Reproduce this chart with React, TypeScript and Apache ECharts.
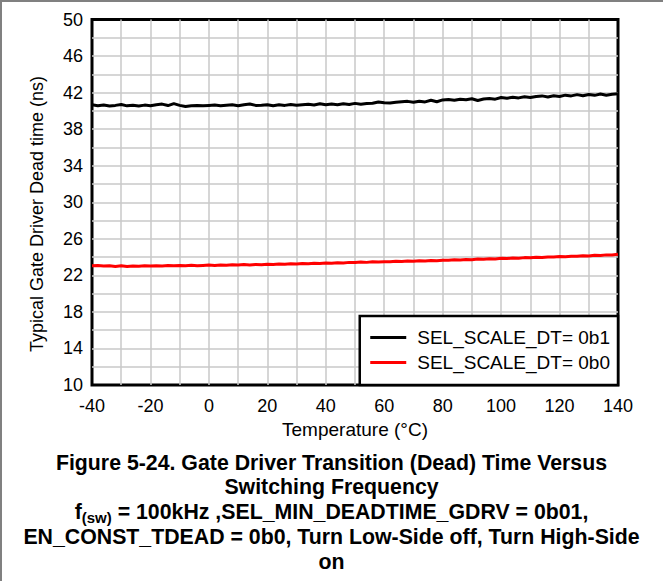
import React, { useEffect, useRef } from "react";
import * as echarts from "echarts";

const FONT = '"Liberation Sans", Arial, Helvetica, sans-serif';

// Junction temperature sweep (°C)
const temperatures = [
  -40, -38, -36, -34, -32, -30, -28, -26, -24, -22, -20, -18, -16, -14, -12, -10,
  -8, -6, -4, -2, 0, 2, 4, 6, 8, 10, 12, 14, 16, 18, 20, 22, 24, 26, 28, 30, 32,
  34, 36, 38, 40, 42, 44, 46, 48, 50, 52, 54, 56, 58, 60, 62, 64, 66, 68, 70, 72,
  74, 76, 78, 80, 82, 84, 86, 88, 90, 92, 94, 96, 98, 100, 102, 104, 106, 108,
  110, 112, 114, 116, 118, 120, 122, 124, 126, 128, 130, 132, 134, 136, 138, 140,
];

// Dead time with SEL_SCALE_DT = 0b1 (ns)
const deadTimeScale1 = [
  40.66, 40.56, 40.64, 40.53, 40.6, 40.7, 40.55, 40.62, 40.54, 40.63, 40.57,
  40.68, 40.74, 40.58, 40.8, 40.6, 40.48, 40.57, 40.6, 40.56, 40.6, 40.64,
  40.56, 40.62, 40.66, 40.56, 40.68, 40.76, 40.6, 40.62, 40.68, 40.56, 40.66,
  40.6, 40.7, 40.62, 40.68, 40.72, 40.64, 40.78, 40.66, 40.74, 40.68, 40.78,
  40.7, 40.82, 40.72, 40.8, 40.84, 40.98, 40.88, 40.86, 40.94, 41.0, 41.04,
  40.94, 41.06, 40.98, 41.16, 41.0, 41.2, 41.24, 41.16, 41.28, 41.22, 41.32,
  41.14, 41.3, 41.36, 41.28, 41.46, 41.38, 41.48, 41.42, 41.54, 41.46, 41.58,
  41.64, 41.52, 41.66, 41.58, 41.72, 41.64, 41.78, 41.66, 41.8, 41.7, 41.84,
  41.72, 41.82, 41.88,
];

// Dead time with SEL_SCALE_DT = 0b0 (ns)
const deadTimeScale0 = [
  23.05, 23.08, 23.02, 23.06, 22.98, 23.04, 22.96, 23.02, 23.0, 23.04, 23.02,
  23.06, 23.03, 23.07, 23.04, 23.08, 23.06, 23.1, 23.05, 23.09, 23.12, 23.08,
  23.13, 23.1, 23.15, 23.12, 23.18, 23.14, 23.2, 23.16, 23.22, 23.19, 23.24,
  23.22, 23.27, 23.24, 23.3, 23.27, 23.33, 23.3, 23.36, 23.33, 23.39, 23.36,
  23.42, 23.4, 23.45, 23.42, 23.48, 23.46, 23.5, 23.48, 23.54, 23.52, 23.57,
  23.55, 23.6, 23.58, 23.63, 23.61, 23.66, 23.64, 23.7, 23.68, 23.74, 23.72,
  23.78, 23.76, 23.82, 23.8, 23.86, 23.84, 23.9, 23.88, 23.94, 23.92, 23.98,
  23.96, 24.02, 24.0, 24.06, 24.04, 24.1, 24.08, 24.15, 24.12, 24.2, 24.17,
  24.24, 24.22, 24.32,
];

const seriesNames = ["SEL_SCALE_DT= 0b1", "SEL_SCALE_DT= 0b0"];
const seriesColors = ["#000000", "#ff0000"];

const xTitle = "Temperature (°C)";
const yTitle = "Typical Gate Driver Dead time (ns)";
const captionLines = [
  "Figure 5-24. Gate Driver Transition (Dead) Time Versus",
  "Switching Frequency",
  "{m|f}{s|(sw)}{m| = 100kHz ,SEL_MIN_DEADTIME_GDRV = 0b01,}",
  "EN_CONST_TDEAD = 0b0, Turn Low-Side off, Turn High-Side",
  "on",
];
const captionY = [463, 487, 512, 537, 562];
const CAPTION_SIZE = 21.3;

export default function App() {
  const ref = useRef<HTMLDivElement>(null);

  useEffect(() => {
    if (!ref.current) return;
    const chart = echarts.init(ref.current, null, { renderer: "svg" });

    const pair = (vals: number[]) => temperatures.map((t, i) => [t, vals[i]]);

    const captionStyle = {
      font: `bold ${CAPTION_SIZE}px ${FONT}`,
      fill: "#000",
      textAlign: "center",
      textVerticalAlign: "middle",
      align: "center",
      verticalAlign: "middle",
    };

    const graphics: any[] = [
      // page frame
      {
        type: "line",
        shape: { x1: 0, y1: 1, x2: 663, y2: 1 },
        style: { stroke: "#808080", lineWidth: 2 },
      },
      {
        type: "line",
        shape: { x1: 1, y1: 0, x2: 1, y2: 581 },
        style: { stroke: "#808080", lineWidth: 2 },
      },
      {
        type: "text",
        x: 37,
        y: 214,
        rotation: Math.PI / 2,
        style: {
          text: yTitle,
          font: `18px ${FONT}`,
          fill: "#000",
          textAlign: "center",
          textVerticalAlign: "middle",
          align: "center",
          verticalAlign: "middle",
        },
      },
      ...captionLines.map((line, i) => ({
        type: "text",
        x: 331.5,
        y: captionY[i],
        style: {
          ...captionStyle,
          text: line,
          rich:
            i === 2
              ? {
                  m: {
                    fontSize: CAPTION_SIZE,
                    fontWeight: "bold",
                    fontFamily: FONT,
                    lineHeight: 25,
                    verticalAlign: "middle",
                  },
                  s: {
                    fontSize: 15,
                    fontWeight: "bold",
                    fontFamily: FONT,
                    lineHeight: 15,
                    verticalAlign: "bottom",
                  },
                }
              : undefined,
        },
      })),
    ];

    chart.setOption({
      animation: false,
      backgroundColor: "#ffffff",
      textStyle: { fontFamily: FONT, color: "#000" },
      grid: {
        left: 92,
        right: 45,
        top: 19.5,
        bottom: 196,
        show: true,
        borderColor: "#000",
        borderWidth: 3,
        backgroundColor: "transparent",
        containLabel: false,
      },
      xAxis: {
        type: "value",
        min: -40,
        max: 140,
        interval: 10,
        axisLine: { show: false },
        axisTick: { show: false },
        splitLine: {
          show: true,
          showMinLine: false,
          showMaxLine: false,
          lineStyle: { color: "#c8c8c8", width: 1.5 },
        },
        axisLabel: {
          formatter: (v: number) => (v % 20 === 0 ? String(v) : ""),
          fontSize: 18,
          color: "#000",
          margin: 12,
          fontFamily: FONT,
        },
        name: xTitle,
        nameLocation: "middle",
        nameGap: 35,
        nameTextStyle: { fontSize: 19, color: "#000", fontFamily: FONT },
      },
      yAxis: {
        type: "value",
        min: 10,
        max: 50,
        interval: 2,
        axisLine: { show: false },
        axisTick: { show: false },
        splitLine: {
          show: true,
          showMinLine: false,
          showMaxLine: false,
          lineStyle: { color: "#c8c8c8", width: 1.5 },
        },
        axisLabel: {
          formatter: (v: number) => ((v - 10) % 4 === 0 ? String(v) : ""),
          fontSize: 18,
          color: "#000",
          margin: 9,
          fontFamily: FONT,
        },
      },
      legend: {
        orient: "vertical",
        right: 45,
        bottom: 196,
        backgroundColor: "#ffffff",
        borderColor: "#000",
        borderWidth: 2.5,
        borderRadius: 0,
        padding: [12, 8, 13, 9],
        itemWidth: 36,
        itemHeight: 14,
        itemGap: 6,
        itemStyle: { opacity: 0 },
        lineStyle: { width: 3 },
        textStyle: {
          fontSize: 19,
          color: "#000",
          fontFamily: FONT,
          padding: [0, 0, 0, 6],
        },
        data: seriesNames,
      },
      series: [
        {
          name: seriesNames[0],
          type: "line",
          data: pair(deadTimeScale1),
          symbol: "none",
          lineStyle: { color: seriesColors[0], width: 3 },
          itemStyle: { color: seriesColors[0] },
          z: 3,
        },
        {
          name: seriesNames[1],
          type: "line",
          data: pair(deadTimeScale0),
          symbol: "none",
          lineStyle: { color: seriesColors[1], width: 3 },
          itemStyle: { color: seriesColors[1] },
          z: 3,
        },
      ],
      graphic: graphics,
    });

    return () => chart.dispose();
  }, []);

  return (
    <div
      ref={ref}
      style={{ position: "absolute", left: 0, top: 0, width: 663, height: 581 }}
    />
  );
}
